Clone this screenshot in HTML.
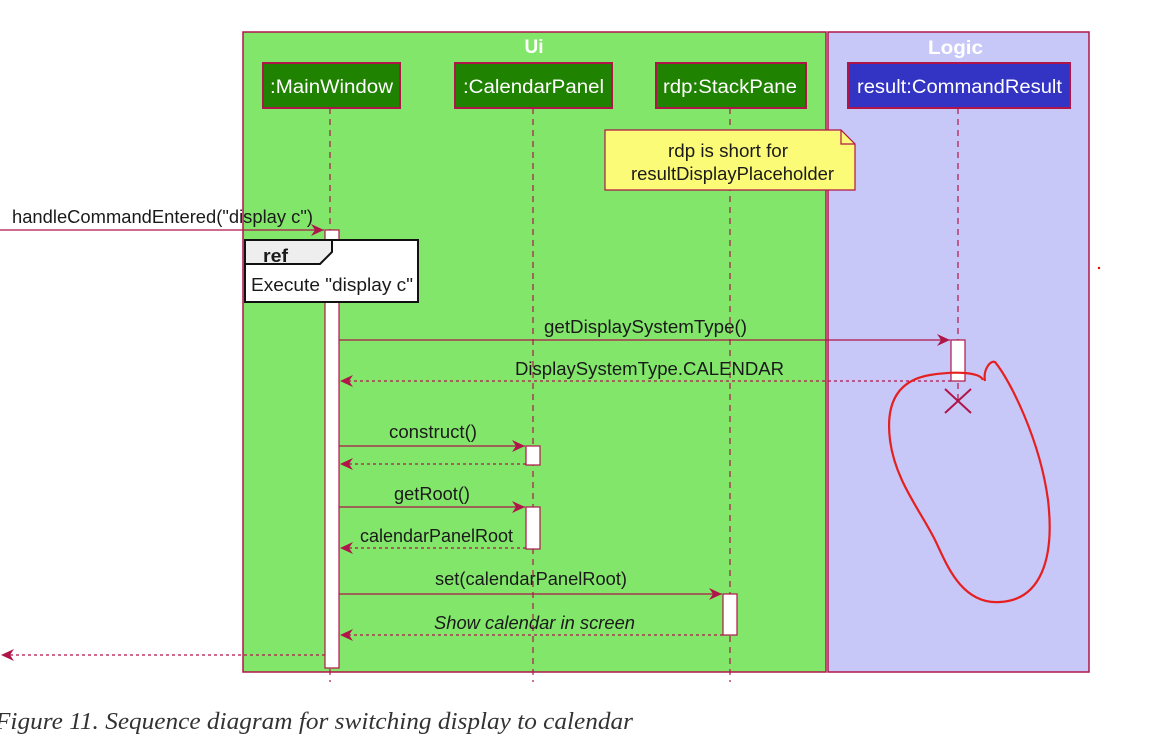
<!DOCTYPE html>
<html><head><meta charset="utf-8"><style>
html,body{margin:0;padding:0;background:#fff;width:1168px;height:748px;overflow:hidden}
svg{display:block}
text{font-family:"Liberation Sans",sans-serif;font-size:18px;fill:#1a1a1a}
</style></head><body>
<svg width="1168" height="748" viewBox="0 0 1168 748" xmlns="http://www.w3.org/2000/svg">
<defs>
<marker id="a" markerWidth="14" markerHeight="12" refX="13" refY="6" orient="auto" markerUnits="userSpaceOnUse">
<path d="M0,0 L13,6 L0,12 L4,6 Z" fill="#b0154a"/></marker>
</defs>
<rect x="243" y="32" width="583" height="640" fill="#82e66a" stroke="#b0154a" stroke-width="1.5"/>
<rect x="828" y="32" width="261" height="640" fill="#c8c8f8" stroke="#b0154a" stroke-width="1.5"/>
<text x="534" y="53" text-anchor="middle" style="fill:#fff;font-weight:bold;font-size:19px">Ui</text>
<text x="928" y="54" textLength="55" lengthAdjust="spacingAndGlyphs" style="fill:#fff;font-weight:bold;font-size:19px">Logic</text>
<g stroke="#b0154a" stroke-width="1.2" stroke-dasharray="6,5">
<line x1="330" y1="108" x2="330" y2="682"/>
<line x1="533" y1="108" x2="533" y2="682"/>
<line x1="730" y1="108" x2="730" y2="682"/>
<line x1="958" y1="108" x2="958" y2="400"/>
</g>
<g style="fill:#fff">
<rect x="263" y="63" width="137" height="45" fill="#1f8200" stroke="#b0154a" stroke-width="2"/>
<text x="270" y="93" textLength="123" lengthAdjust="spacingAndGlyphs" style="fill:#fff;font-size:19px">:MainWindow</text>
<rect x="455" y="63" width="157" height="45" fill="#1f8200" stroke="#b0154a" stroke-width="2"/>
<text x="463" y="93" textLength="141" lengthAdjust="spacingAndGlyphs" style="fill:#fff;font-size:19px">:CalendarPanel</text>
<rect x="656" y="63" width="150" height="45" fill="#1f8200" stroke="#b0154a" stroke-width="2"/>
<text x="663" y="93" textLength="134" lengthAdjust="spacingAndGlyphs" style="fill:#fff;font-size:19px">rdp:StackPane</text>
<rect x="848" y="63" width="222" height="45" fill="#3333c4" stroke="#b0154a" stroke-width="2"/>
<text x="857" y="93" textLength="205" lengthAdjust="spacingAndGlyphs" style="fill:#fff;font-size:19px">result:CommandResult</text>
</g>
<path d="M605,130 H841 L855,144 V190 H605 Z" fill="#fbfb77" stroke="#b0154a" stroke-width="1.2"/>
<path d="M841,130 V144 H855" fill="none" stroke="#b0154a" stroke-width="1.2"/>
<text x="668" y="157" textLength="120" lengthAdjust="spacingAndGlyphs">rdp is short for</text>
<text x="631" y="180" textLength="203" lengthAdjust="spacingAndGlyphs">resultDisplayPlaceholder</text>
<rect x="325" y="230" width="14" height="438" fill="#fff" stroke="#b0154a" stroke-width="1.2"/>
<line x1="0" y1="230" x2="324" y2="230" stroke="#b0154a" stroke-width="1.2" marker-end="url(#a)"/>
<text x="12" y="223" textLength="301" lengthAdjust="spacingAndGlyphs">handleCommandEntered("display c")</text>
<rect x="245" y="240" width="173" height="62" fill="#fff" stroke="#111" stroke-width="2"/>
<path d="M245,240 H332 V252 L320,264 H245 Z" fill="#eee" stroke="#111" stroke-width="2"/>
<text x="263" y="262" textLength="25" lengthAdjust="spacingAndGlyphs" style="font-weight:bold">ref</text>
<text x="251" y="291" textLength="162" lengthAdjust="spacingAndGlyphs">Execute "display c"</text>
<rect x="951" y="340" width="14" height="41" fill="#fff" stroke="#b0154a" stroke-width="1.2"/>
<line x1="339" y1="340" x2="950" y2="340" stroke="#b0154a" stroke-width="1.2" marker-end="url(#a)"/>
<text x="544" y="333" textLength="203" lengthAdjust="spacingAndGlyphs">getDisplaySystemType()</text>
<line x1="951" y1="381" x2="340" y2="381" stroke="#b0154a" stroke-width="1.2" stroke-dasharray="3,3" marker-end="url(#a)"/>
<text x="515" y="375" textLength="269" lengthAdjust="spacingAndGlyphs">DisplaySystemType.CALENDAR</text>
<path d="M945,389 L971,413 M971,389 L945,413" stroke="#b0154a" stroke-width="2"/>
<rect x="526" y="446" width="14" height="19" fill="#fff" stroke="#b0154a" stroke-width="1.2"/>
<line x1="339" y1="446" x2="525" y2="446" stroke="#b0154a" stroke-width="1.2" marker-end="url(#a)"/>
<text x="389" y="438" textLength="88" lengthAdjust="spacingAndGlyphs">construct()</text>
<line x1="526" y1="464" x2="340" y2="464" stroke="#b0154a" stroke-width="1.2" stroke-dasharray="3,3" marker-end="url(#a)"/>
<rect x="526" y="507" width="14" height="42" fill="#fff" stroke="#b0154a" stroke-width="1.2"/>
<line x1="339" y1="507" x2="525" y2="507" stroke="#b0154a" stroke-width="1.2" marker-end="url(#a)"/>
<text x="394" y="500" textLength="76" lengthAdjust="spacingAndGlyphs">getRoot()</text>
<line x1="526" y1="548" x2="340" y2="548" stroke="#b0154a" stroke-width="1.2" stroke-dasharray="3,3" marker-end="url(#a)"/>
<text x="360" y="542" textLength="153" lengthAdjust="spacingAndGlyphs">calendarPanelRoot</text>
<rect x="723" y="594" width="14" height="41" fill="#fff" stroke="#b0154a" stroke-width="1.2"/>
<line x1="339" y1="594" x2="722" y2="594" stroke="#b0154a" stroke-width="1.2" marker-end="url(#a)"/>
<text x="435" y="585" textLength="192" lengthAdjust="spacingAndGlyphs">set(calendarPanelRoot)</text>
<line x1="723" y1="635" x2="340" y2="635" stroke="#b0154a" stroke-width="1.2" stroke-dasharray="3,3" marker-end="url(#a)"/>
<text x="434" y="629" textLength="201" lengthAdjust="spacingAndGlyphs" style="font-style:italic">Show calendar in screen</text>
<line x1="325" y1="655" x2="1" y2="655" stroke="#b0154a" stroke-width="1.2" stroke-dasharray="3,3" marker-end="url(#a)"/>
<circle cx="1099" cy="268" r="1.2" fill="#e00"/>
<path d="M985,381 C983,370 990,360 995,362 C1010,380 1040,440 1048,500 C1055,560 1040,600 1000,602 C960,605 945,560 935,540 C920,510 895,480 890,440 C885,400 900,380 930,375 C955,371 980,372 983,380" fill="none" stroke="#e52020" stroke-width="2.2"/>
<text x="-5" y="729" textLength="638" lengthAdjust="spacingAndGlyphs" style="font-family:'Liberation Serif',serif;font-style:italic;font-size:24px;fill:#333">Figure 11. Sequence diagram for switching display to calendar</text>
</svg>
</body></html>
